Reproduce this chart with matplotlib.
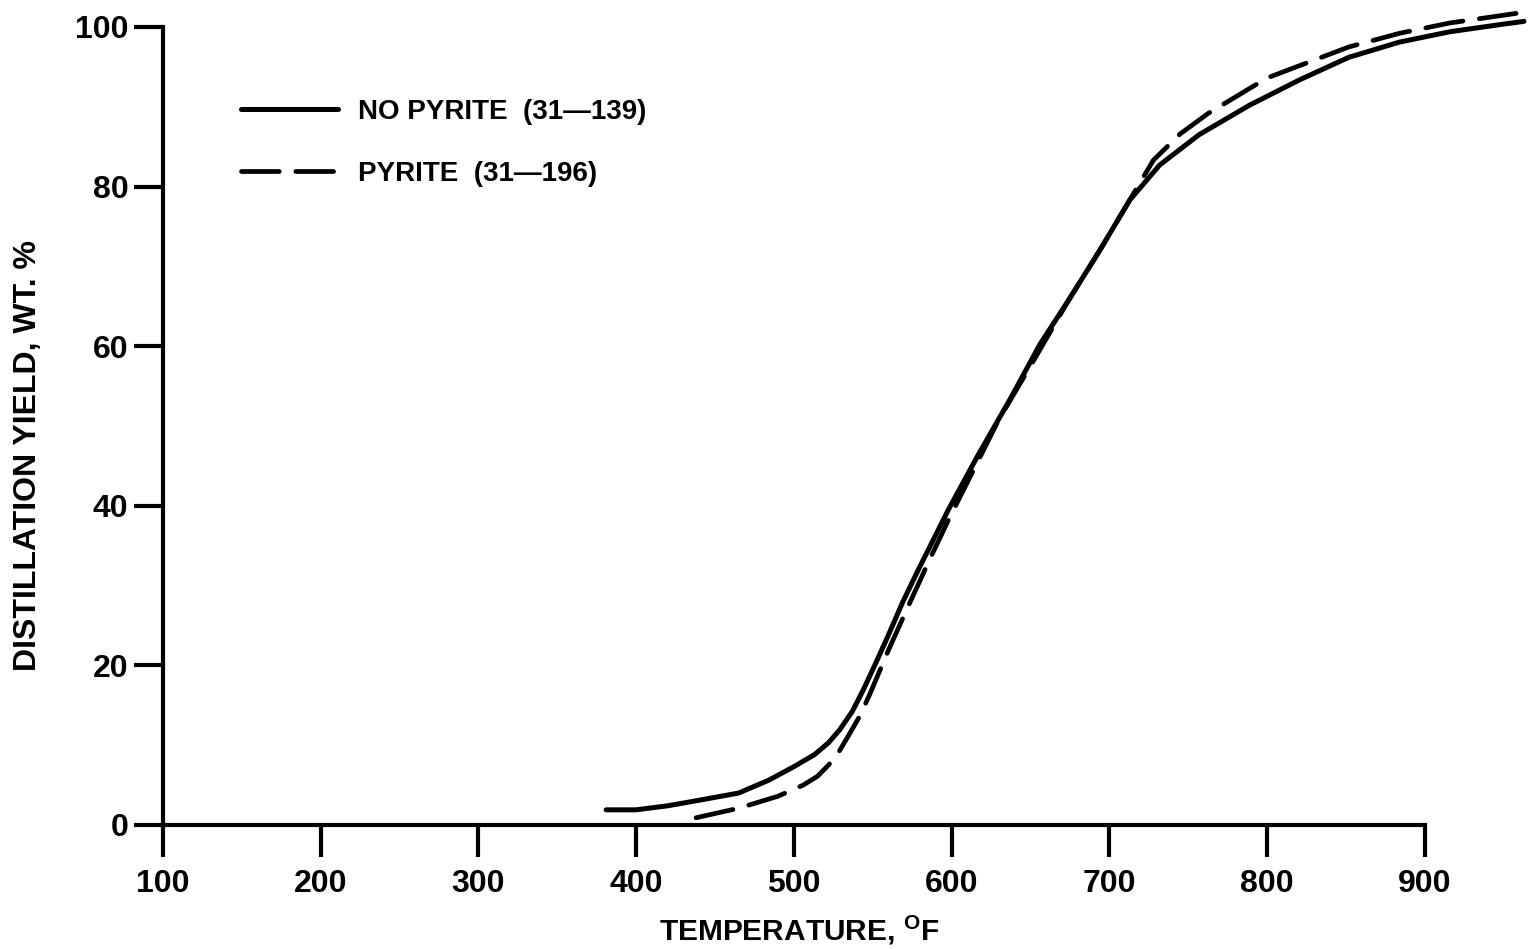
import matplotlib
matplotlib.use("Agg")
import matplotlib.pyplot as plt
import numpy as np

plt.rcParams['font.family'] = ['Liberation Sans', 'DejaVu Sans']
plt.rcParams['font.weight'] = 'bold'
plt.rcParams['mathtext.fontset'] = 'custom'
plt.rcParams['mathtext.rm'] = 'Liberation Sans:bold'
plt.rcParams['mathtext.bf'] = 'Liberation Sans:bold'

# Data
no_pyrite_temp = [381, 400, 420, 440, 465, 484, 500, 513, 522, 529, 537, 544, 552, 560, 569, 579, 598, 617, 637, 656, 675, 694, 713, 732, 757, 789, 821, 852, 884, 916, 948, 963]
no_pyrite_yield = [1.9, 1.9, 2.4, 3.1, 4.0, 5.6, 7.3, 8.8, 10.3, 11.9, 14.2, 16.9, 20.3, 23.8, 27.9, 32.0, 39.5, 46.4, 53.3, 60.2, 66.0, 72.0, 78.3, 82.7, 86.5, 90.2, 93.4, 96.2, 98.1, 99.4, 100.3, 100.7]

pyrite_temp = [438, 465, 490, 506, 515, 522, 529, 535, 542, 548, 560, 573, 586, 598, 614, 630, 650, 675, 694, 713, 728, 745, 763, 800, 852, 884, 916, 958]
pyrite_yield = [0.9, 2.1, 3.6, 5.0, 6.1, 7.5, 9.3, 11.3, 13.7, 16.3, 21.9, 27.6, 33.2, 38.2, 44.5, 50.8, 57.5, 66.0, 72.0, 78.3, 83.3, 86.6, 89.2, 93.6, 97.5, 99.2, 100.5, 101.7]

x_ticks = [100, 200, 300, 400, 500, 600, 700, 800, 900]
y_ticks = [0, 20, 40, 60, 80, 100]

fig = plt.figure(figsize=(15.3, 9.49), dpi=100)
ax = fig.add_axes([163/1530, 0.1307, 1 - 163/1530, 102.5*7.98/949])
ax.set_xlim(100, 100 + (1530-163)/1.577)
ax.set_ylim(0, 102.5)

ax.plot(no_pyrite_temp, no_pyrite_yield, color='black', lw=3.6,
        solid_capstyle='round', solid_joinstyle='round',
        label='NO PYRITE  (31\u2014139)', clip_on=False)
ax.plot(pyrite_temp, pyrite_yield, color='black', lw=3.4, dashes=(8, 3.5),
        dash_capstyle='round', dash_joinstyle='round',
        label='PYRITE  (31\u2014196)', clip_on=False)

for s in ['top', 'right']:
    ax.spines[s].set_visible(False)
ax.spines['left'].set_linewidth(3)
ax.spines['bottom'].set_linewidth(3)
ax.spines['bottom'].set_bounds(100, 900)
ax.spines['left'].set_bounds(0, 100)

ax.set_xticks(x_ticks)
ax.set_yticks(y_ticks)
ax.tick_params(axis='x', length=23, width=3, pad=9, labelsize=23)
ax.tick_params(axis='y', length=21, width=3, pad=4, labelsize=23)

axh = 102.5 * 7.98
ax.set_xlabel(r'TEMPERATURE, $^{\mathbf{O}}$F', fontsize=21.5, fontweight='bold')
ax.xaxis.set_label_coords((799-163)/(1530-163), -(913-825)/axh)
ax.set_ylabel('DISTILLATION YIELD, WT. %', fontsize=23, fontweight='bold')
ax.yaxis.set_label_coords(-(163-43)/(1530-163), (825-456)/axh)

leg = ax.legend(loc='upper left', bbox_to_anchor=(216/1530, 1 - 74/949),
                bbox_transform=fig.transFigure, frameon=False, fontsize=20,
                handlelength=3.5, handletextpad=0.7, labelspacing=1.3)

fig.savefig('out.png', dpi=100, facecolor='white')
